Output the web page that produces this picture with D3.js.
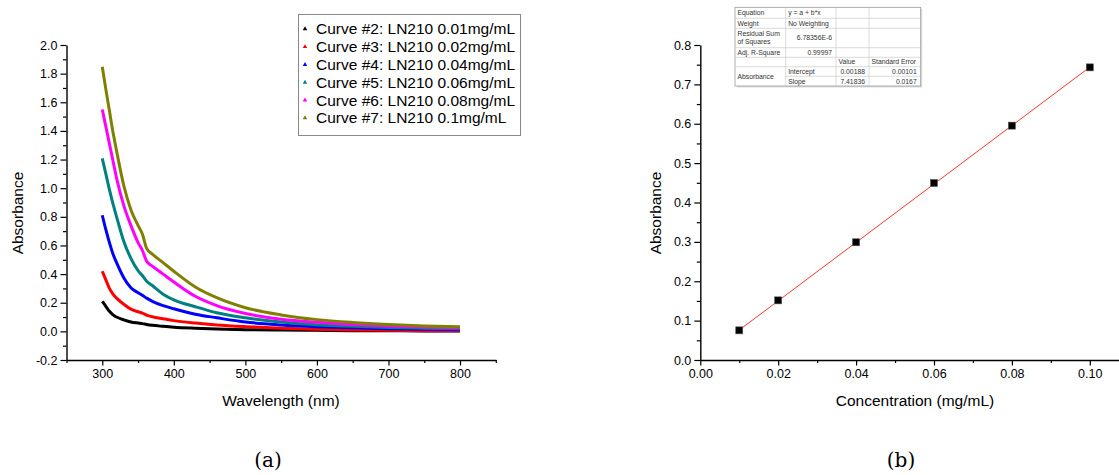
<!DOCTYPE html>
<html>
<head>
<meta charset="utf-8">
<script src="https://cdn.jsdelivr.net/npm/d3@7"></script>
<style>
  html, body { margin: 0; padding: 0; background: #fff; }
  svg { display: block; font-family: "Liberation Sans", Arial, sans-serif; }
</style>
</head>
<body>
<svg id="chart" width="1119" height="475"></svg>
<script>
// ---------- Data: panel (a) UV-Vis spectra ----------
const wavelengths = [300, 305, 310, 315, 320, 330, 340, 350, 356, 362, 370, 385, 400, 430, 460, 500, 550, 600, 650, 700, 750, 800];
const curve2 = [0.21, 0.175, 0.14, 0.115, 0.10, 0.08, 0.066, 0.058, 0.054, 0.048, 0.042, 0.035, 0.029, 0.022, 0.017, 0.012, 0.009, 0.007, 0.005, 0.004, 0.003, 0.003];
const curve3 = [0.42, 0.36, 0.30, 0.26, 0.232, 0.19, 0.155, 0.137, 0.128, 0.114, 0.102, 0.088, 0.075, 0.058, 0.045, 0.033, 0.022, 0.015, 0.010, 0.007, 0.005, 0.004];
const curve4 = [0.811, 0.71, 0.62, 0.54, 0.48, 0.375, 0.305, 0.27, 0.252, 0.232, 0.21, 0.18, 0.158, 0.12, 0.095, 0.065, 0.045, 0.033, 0.025, 0.019, 0.015, 0.012];
const curve5 = [1.208, 1.10, 0.99, 0.89, 0.80, 0.63, 0.51, 0.425, 0.39, 0.35, 0.32, 0.26, 0.22, 0.172, 0.13, 0.095, 0.066, 0.047, 0.035, 0.027, 0.022, 0.018];
const curve6 = [1.55, 1.43, 1.31, 1.19, 1.07, 0.88, 0.74, 0.62, 0.566, 0.49, 0.455, 0.40, 0.345, 0.245, 0.18, 0.125, 0.085, 0.063, 0.048, 0.038, 0.031, 0.026];
const curve7 = [1.848, 1.69, 1.54, 1.39, 1.26, 1.02, 0.85, 0.74, 0.68, 0.58, 0.54, 0.48, 0.42, 0.31, 0.235, 0.165, 0.115, 0.082, 0.062, 0.048, 0.038, 0.032];
const seriesNames = ["Curve #2: LN210 0.01mg/mL", "Curve #3: LN210 0.02mg/mL", "Curve #4: LN210 0.04mg/mL",
                     "Curve #5: LN210 0.06mg/mL", "Curve #6: LN210 0.08mg/mL", "Curve #7: LN210 0.1mg/mL"];
const seriesColors = ["#000000", "#ff0000", "#0000ff", "#008080", "#ff00ff", "#808000"];
const seriesValues = [curve2, curve3, curve4, curve5, curve6, curve7];
const xTicksA = [300, 400, 500, 600, 700, 800];
const xMinorA = [250, 350, 450, 550, 650, 750, 850];
const yTicksA = [-0.2, 0, 0.2, 0.4, 0.6, 0.8, 1.0, 1.2, 1.4, 1.6, 1.8, 2.0];
const yMinorA = [-0.1, 0.1, 0.3, 0.5, 0.7, 0.9, 1.1, 1.3, 1.5, 1.7, 1.9];

// ---------- Data: panel (b) calibration ----------
const concentrations = [0.01, 0.02, 0.04, 0.06, 0.08, 0.10];
const absorbances = [0.0753, 0.1515, 0.2990, 0.4495, 0.5952, 0.7432];
const fitIntercept = 0.00188;
const fitSlope = 7.41836;
const xTicksB = [0.00, 0.02, 0.04, 0.06, 0.08, 0.10];
const xMinorB = [0.01, 0.03, 0.05, 0.07, 0.09];
const yTicksB = [0, 0.1, 0.2, 0.3, 0.4, 0.5, 0.6, 0.7, 0.8];
const yMinorB = [0.05, 0.15, 0.25, 0.35, 0.45, 0.55, 0.65, 0.75];
const tableRows = [
  ["Equation", "y = a + b*x", "", ""],
  ["Weight", "No Weighting", "", ""],
  ["Residual Sum|of Squares", "6.78356E-6", "", ""],
  ["Adj. R-Square", "0.99997", "", ""],
  ["", "", "Value", "Standard Error"],
  ["Absorbance", "Intercept", "0.00188", "0.00101"],
  ["", "Slope", "7.41836", "0.0167"]
];

const svg = d3.select("#chart");

function styleAxis(g) {
  g.select(".domain").attr("stroke", "#000").attr("stroke-width", 1.4);
  g.selectAll(".tick line").attr("stroke", "#000").attr("stroke-width", 1.2);
  g.selectAll(".tick text").attr("fill", "#000").style("font-size", "12.5px")
    .style("font-family", "'Liberation Sans', Arial, sans-serif");
}

// ================= Panel (a) =================
const xA = d3.scaleLinear().domain([250, 850]).range([66.5, 495.8]);
const yA = d3.scaleLinear().domain([-0.2, 2.0]).range([360, 45]);

const gA = svg.append("g");
// minor ticks
gA.append("g").attr("transform", `translate(0,${yA(-0.2)})`)
  .call(d3.axisBottom(xA).tickValues(xMinorA).tickSize(3).tickFormat(""))
  .call(g => { styleAxis(g); g.select(".domain").remove(); });
gA.append("g").attr("transform", `translate(${xA(250)},0)`)
  .call(d3.axisLeft(yA).tickValues(yMinorA).tickSize(3.5).tickFormat(""))
  .call(g => { styleAxis(g); g.select(".domain").remove(); });
// major axes
gA.append("g").attr("transform", `translate(0,${yA(-0.2)})`)
  .call(d3.axisBottom(xA).tickValues(xTicksA).tickSize(5.5).tickSizeOuter(0).tickPadding(4).tickFormat(d3.format("d")))
  .call(styleAxis);
gA.append("g").attr("transform", `translate(${xA(250)},0)`)
  .call(d3.axisLeft(yA).tickValues(yTicksA).tickSize(6).tickSizeOuter(0).tickPadding(3).tickFormat(d => d.toFixed(1)))
  .call(styleAxis);

// curves
const lineA = d3.line().x(d => xA(d[0])).y(d => yA(d[1])).curve(d3.curveMonotoneX);
seriesValues.forEach((vals, i) => {
  const pts = wavelengths.map((w, j) => [w, vals[j]]);
  gA.append("path").datum(pts)
    .attr("d", lineA)
    .attr("fill", "none")
    .attr("stroke", seriesColors[i])
    .attr("stroke-width", 3)
    .attr("stroke-linejoin", "round");
});

// axis titles
gA.append("text").attr("x", 281).attr("y", 406).attr("text-anchor", "middle")
  .style("font-size", "15.5px").attr("fill", "#000").text("Wavelength (nm)");
gA.append("text").attr("transform", "translate(23,213) rotate(-90)").attr("text-anchor", "middle")
  .style("font-size", "15.5px").attr("fill", "#000").text("Absorbance");

// legend
const leg = gA.append("g");
leg.append("rect").attr("x", 298.5).attr("y", 14.5).attr("width", 222).attr("height", 121)
  .attr("fill", "#fff").attr("stroke", "#888").attr("stroke-width", 1);
seriesNames.forEach((name, i) => {
  const cy = 29 + i * 17.8;
  leg.append("path").attr("d", d3.symbol(d3.symbolTriangle, 9)())
    .attr("transform", `translate(305,${cy})`).attr("fill", seriesColors[i]);
  leg.append("text").attr("x", 316).attr("y", cy + 5.3)
    .style("font-size", "15.5px").attr("fill", "#000").text(name);
});

// caption
svg.append("text").attr("x", 268).attr("y", 467).attr("text-anchor", "middle")
  .style("font-family", "'DejaVu Serif', serif").style("font-size", "20px").attr("fill", "#000").text("(a)");

// ================= Panel (b) =================
const xB = d3.scaleLinear().domain([0, 0.1075]).range([700.3, 1119]);
const yB = d3.scaleLinear().domain([0, 0.8]).range([360, 45]);
const gB = svg.append("g");

gB.append("g").attr("transform", `translate(0,${yB(0)})`)
  .call(d3.axisBottom(xB).tickValues(xMinorB).tickSize(3).tickFormat(""))
  .call(g => { styleAxis(g); g.select(".domain").remove(); });
gB.append("g").attr("transform", `translate(${xB(0)},0)`)
  .call(d3.axisLeft(yB).tickValues(yMinorB).tickSize(3.5).tickFormat(""))
  .call(g => { styleAxis(g); g.select(".domain").remove(); });
gB.append("g").attr("transform", `translate(0,${yB(0)})`)
  .call(d3.axisBottom(xB).tickValues(xTicksB).tickSize(5.5).tickSizeOuter(0).tickPadding(4).tickFormat(d => d.toFixed(2)))
  .call(styleAxis);
gB.append("g").attr("transform", `translate(${xB(0)},0)`)
  .call(d3.axisLeft(yB).tickValues(yTicksB).tickSize(6).tickSizeOuter(0).tickPadding(3).tickFormat(d => d.toFixed(1)))
  .call(styleAxis);

// fit line
const fitX = d3.extent(concentrations);
gB.append("path").datum(fitX.map(x => [x, fitIntercept + fitSlope * x]))
  .attr("d", d3.line().x(d => xB(d[0])).y(d => yB(d[1])))
  .attr("stroke", "#ff3030").attr("stroke-width", 1).attr("fill", "none");

// points
gB.selectAll("rect.pt").data(concentrations.map((c, i) => [c, absorbances[i]]))
  .join("rect").attr("class", "pt")
  .attr("x", d => xB(d[0]) - 3.5).attr("y", d => yB(d[1]) - 3.5)
  .attr("width", 7).attr("height", 7)
  .attr("fill", "#000").attr("stroke", "#555").attr("stroke-width", 0.6);

gB.append("text").attr("x", 915).attr("y", 406).attr("text-anchor", "middle")
  .style("font-size", "15.5px").attr("fill", "#000").text("Concentration (mg/mL)");
gB.append("text").attr("transform", "translate(661,213) rotate(-90)").attr("text-anchor", "middle")
  .style("font-size", "15.5px").attr("fill", "#000").text("Absorbance");

// results table
const colX = [735, 785.7, 836, 869, 920.7];
const rowY = [7.3, 18.3, 28.3, 47.7, 57.3, 66.7, 76.3, 86];
const tb = gB.append("g").style("font-size", "6.8px").attr("fill", "#333");
tb.append("rect").attr("x", colX[0] + 1.5).attr("y", rowY[0] + 1.5)
  .attr("width", colX[4] - colX[0]).attr("height", rowY[7] - rowY[0]).attr("fill", "#ddd");
tb.append("rect").attr("x", colX[0]).attr("y", rowY[0])
  .attr("width", colX[4] - colX[0]).attr("height", rowY[7] - rowY[0])
  .attr("fill", "#fff").attr("stroke", "#999").attr("stroke-width", 0.8);
// horizontal lines
rowY.slice(1, 7).forEach((y, i) => {
  const x0 = (i === 5) ? colX[1] : colX[0];
  tb.append("line").attr("x1", x0).attr("x2", colX[4]).attr("y1", y).attr("y2", y)
    .attr("stroke", "#ccc").attr("stroke-width", 0.7);
});
colX.slice(1, 4).forEach(x => {
  tb.append("line").attr("x1", x).attr("x2", x).attr("y1", rowY[0]).attr("y2", rowY[7])
    .attr("stroke", "#ccc").attr("stroke-width", 0.7);
});
tableRows.forEach((row, r) => {
  row.forEach((cell, c) => {
    if (!cell) return;
    const numeric = /^[0-9.E-]+$/.test(cell) && c > 0;
    let y0 = rowY[r], y1 = rowY[r + 1];
    if (r === 5 && c === 0) y1 = rowY[7];
    const lines = cell.split("|");
    const x = numeric ? colX[c + 1] - 4 : colX[c] + 2.5;
    lines.forEach((ln, k) => {
      const lh = 7.5;
      const yc = lines.length > 1 ? y0 + 8 + k * lh : (y0 + y1) / 2 + 2.4;
      tb.append("text").attr("x", x).attr("y", yc)
        .attr("text-anchor", numeric ? "end" : "start").text(ln);
    });
  });
});

svg.append("text").attr("x", 901).attr("y", 467).attr("text-anchor", "middle")
  .style("font-family", "'DejaVu Serif', serif").style("font-size", "20px").attr("fill", "#000").text("(b)");
</script>
</body>
</html>
